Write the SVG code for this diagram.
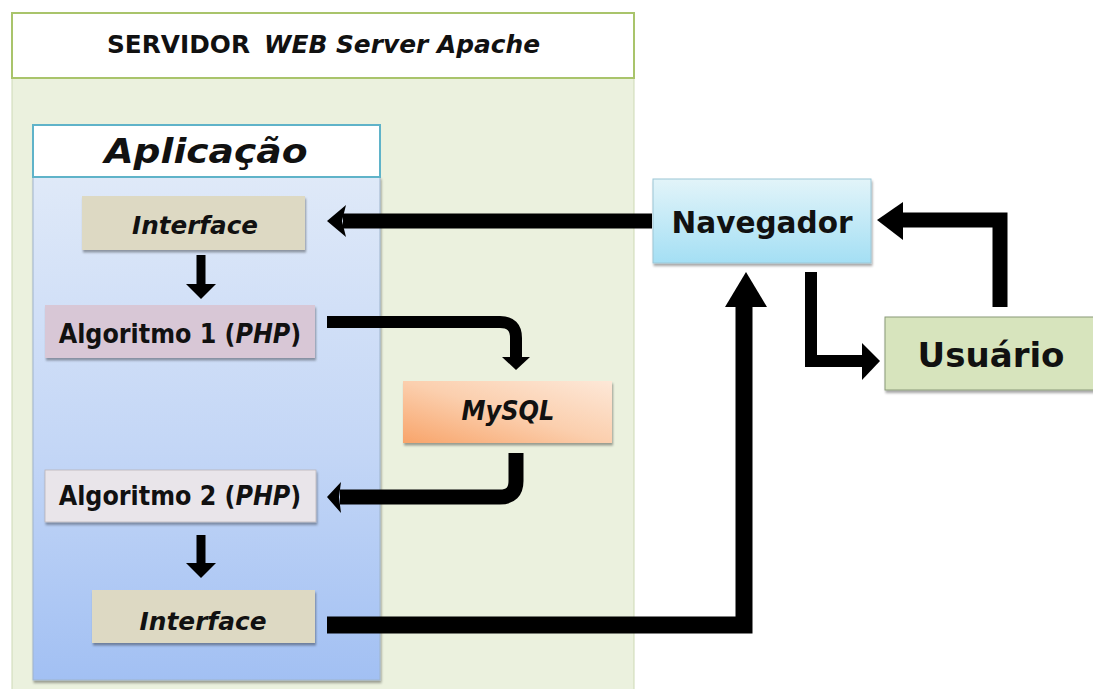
<svg xmlns="http://www.w3.org/2000/svg" width="1093" height="689" viewBox="0 0 1093 689">
<defs>
<style>
text{font-family:"DejaVu Sans","Liberation Sans",Arial,sans-serif;font-weight:bold;fill:#111;}
.it{font-style:italic;}
.cond{font-family:"DejaVu Sans Condensed","DejaVu Sans",sans-serif;font-stretch:condensed;font-size:26.5px;}
.wire{fill:none;stroke:#000;stroke-linejoin:round;}
.wire.sq{stroke-linejoin:miter;}
.head{fill:#000;}
.box{filter:url(#sh);}
</style>
<filter id="sh" x="-10%" y="-20%" width="120%" height="150%">
<feDropShadow dx="1" dy="2.5" stdDeviation="1.2" flood-color="#000" flood-opacity="0.35"/>
</filter>
<linearGradient id="gApp" x1="0" y1="0" x2="0" y2="1">
<stop offset="0" stop-color="#dfe9f8"/>
<stop offset="0.55" stop-color="#c3d6f6"/>
<stop offset="1" stop-color="#a2c0f3"/>
</linearGradient>
<linearGradient id="gNav" x1="0" y1="0" x2="0" y2="1">
<stop offset="0" stop-color="#e2f4f9"/>
<stop offset="1" stop-color="#a4dff4"/>
</linearGradient>
<linearGradient id="gSql" x1="1" y1="0" x2="0" y2="1">
<stop offset="0" stop-color="#fde8d8"/>
<stop offset="0.5" stop-color="#fbcfae"/>
<stop offset="1" stop-color="#f8a46a"/>
</linearGradient>
</defs>
<rect width="1093" height="689" fill="#ffffff"/>

<g id="servidor">
<rect x="12" y="78" width="622" height="620" fill="#ebf1de" stroke="#cdd9b5" stroke-width="1"/>
<rect x="12" y="13" width="622" height="65" fill="#ffffff" stroke="#a9c46b" stroke-width="2"/>
<text x="107" y="53" font-size="25" textLength="143" lengthAdjust="spacingAndGlyphs">SERVIDOR</text>
<text x="264" y="53" font-size="25" class="it" textLength="276" lengthAdjust="spacingAndGlyphs">WEB Server Apache</text>
</g>

<g id="aplicacao">
<rect x="33" y="177" width="347" height="503" fill="url(#gApp)" stroke="#9fb4cc" stroke-width="1" class="box"/>
<rect x="33" y="125" width="347" height="52" fill="#ffffff" stroke="#5fb3c9" stroke-width="2"/>
<text x="206" y="163" font-size="34" class="it" text-anchor="middle" textLength="203" lengthAdjust="spacingAndGlyphs">Aplicação</text>
</g>

<g id="interface1">
<rect x="82" y="196" width="223" height="54" fill="#ddd9c3" class="box"/>
<text x="195" y="234" font-size="24" class="it" text-anchor="middle" textLength="126" lengthAdjust="spacingAndGlyphs">Interface</text>
</g>

<g id="algoritmo1">
<rect x="45" y="305" width="270" height="53" fill="#d8c7d6" class="box"/>
<text x="180" y="343" class="cond" text-anchor="middle">Algoritmo 1 (<tspan class="it">PHP</tspan>)</text>
</g>

<g id="mysql">
<rect x="403" y="381" width="209" height="62" fill="url(#gSql)" class="box"/>
<text x="508" y="420" font-size="26" class="it" text-anchor="middle" textLength="93" lengthAdjust="spacingAndGlyphs">MySQL</text>
</g>

<g id="algoritmo2">
<rect x="45" y="470" width="271" height="52" fill="#e9e5ea" stroke="#b9b4b9" stroke-width="0.8" class="box"/>
<text x="180" y="505" class="cond" text-anchor="middle">Algoritmo 2 (<tspan class="it">PHP</tspan>)</text>
</g>

<g id="interface2">
<rect x="92" y="590" width="223" height="53" fill="#ddd9c3" class="box"/>
<text x="203" y="630" font-size="24" class="it" text-anchor="middle" textLength="127" lengthAdjust="spacingAndGlyphs">Interface</text>
</g>

<g id="navegador">
<rect x="653" y="179" width="218" height="84" fill="url(#gNav)" stroke="#9cc6d6" stroke-width="1" class="box"/>
<text x="762" y="233" font-size="31" text-anchor="middle" textLength="181" lengthAdjust="spacingAndGlyphs">Navegador</text>
</g>

<g id="usuario">
<rect x="885" y="317" width="215" height="73" fill="#d7e4bd" stroke="#8a9a78" stroke-width="1" class="box"/>
<text x="991" y="367" font-size="33" text-anchor="middle" textLength="147" lengthAdjust="spacingAndGlyphs">Usuário</text>
</g>

<g id="connectors">
<!-- Interface1 -> Algoritmo1 -->
<path class="wire" d="M201,255 V285" stroke-width="9"/>
<polygon class="head" points="186,284 216,284 201,299"/>
<!-- Algoritmo2 -> Interface2 -->
<path class="wire" d="M201,535 V564" stroke-width="9"/>
<polygon class="head" points="186,563 216,563 201,578"/>
<!-- Navegador -> Interface1 -->
<path class="wire" d="M652,221 H343" stroke-width="15"/>
<polygon class="head" points="327,221 346,205 342,221 346,237"/>
<!-- Algoritmo1 -> MySQL -->
<path class="wire" d="M327,322 H500 Q516,322 516,338 V359" stroke-width="12"/>
<polygon class="head" points="502,357 530,357 516,370"/>
<!-- MySQL -> Algoritmo2 -->
<path class="wire" d="M516,453 V481 Q516,497 500,497 H340" stroke-width="15"/>
<polygon class="head" points="327,497 341,482 339,497 341,513"/>
<!-- Interface2 -> Navegador -->
<path class="wire sq" d="M327,625 H744 V305" stroke-width="17"/>
<polygon class="head" points="725,307 767,307 746,272"/>
<!-- Navegador -> Usuario -->
<path class="wire sq" d="M811,272 V361 H864" stroke-width="12"/>
<polygon class="head" points="862,343 862,380 880,361"/>
<!-- Usuario -> Navegador -->
<path class="wire sq" d="M1000,307 V220 H900" stroke-width="15"/>
<polygon class="head" points="903,202 903,240 877,220"/>
</g>
</svg>
